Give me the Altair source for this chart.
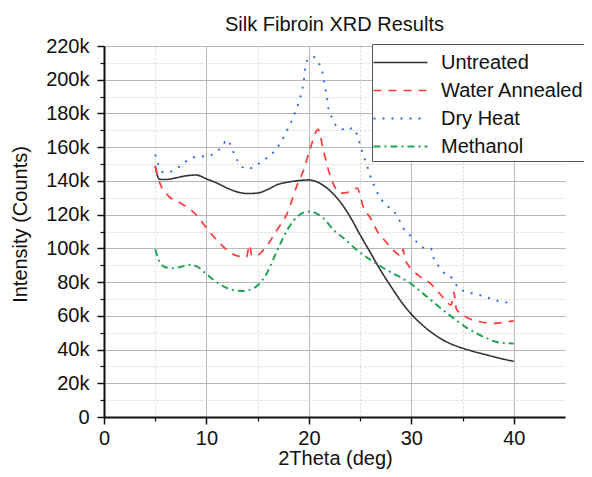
import altair as alt
import pandas as pd

FONT = "Liberation Sans"

series = ["Untreated", "Water Annealed", "Dry Heat", "Methanol"]
colors = ["#333333", "#ff3b3b", "#2a64e6", "#22a455"]
dashes = [[1, 0], [8, 7], [2, 7], [7, 4, 2, 4]]
widths = [1.6, 2.0, 2.2, 2.0]

# 2Theta (deg) and intensity (thousand counts)
ut_x = [5.0, 5.4, 6, 7, 8, 9, 10, 11, 12, 13, 14, 15, 16, 17, 18, 19, 20, 21, 22, 23, 24, 25,
        26, 27, 28, 29, 30, 31, 32, 33, 34, 35, 36, 37, 38, 39, 40]
ut_y = [149, 141, 140.8, 141.8, 143, 143.5, 141.2, 138.8, 135.8, 133.5, 132.5, 132.8, 135, 138,
        139.3, 140.2, 140.6, 138.8, 134.5, 128, 119, 108, 97.5, 87, 77.5, 68.5, 61, 55, 50, 46,
        43, 40.8, 39, 37.4, 35.8, 34.3, 33]

wa_x = [5.0, 5.5, 6.3, 7.4, 8.4, 9.2, 10, 11, 12, 13, 13.9, 14.2, 14.45, 15, 15.7, 16.9, 17.9,
        18.8, 19.5, 20.1, 20.9, 21.4, 22.1, 23.1, 24.2, 24.7, 25.3, 26.0, 26.7, 27.5, 28.4, 29.05,
        29.2, 29.35, 29.6, 30.7, 31.9, 32.8, 33.9, 34.15, 34.4, 35.3, 36.7, 38.1, 39.4, 40]
wa_y = [148.6, 138, 131, 127, 123.3, 118.5, 112, 105, 99, 95.5, 94.8, 102, 95.5, 96, 100, 111, 121,
        136.7, 146.7, 158.6, 170.5, 158.6, 142.7, 132.8, 133.8, 135.8, 124.9, 118, 110, 104, 98,
        95.5, 99.5, 94, 91, 84, 79, 73, 66.5, 74, 64, 59.5, 56.5, 55.5, 56.5, 57]

dh_x = [5.0, 5.3, 5.8, 6.6, 7.6, 8.7, 9.7, 10.5, 11.0, 11.6, 12.0, 12.5, 12.8, 13.3, 13.95, 14.6,
        15.2, 15.9, 16.9, 17.5, 17.9, 18.3, 18.7, 19.0, 19.3, 19.5, 19.6, 19.9, 20.4, 20.8, 21.1,
        21.3, 21.4, 21.6, 21.8, 21.9, 22.3, 22.7, 23.4, 23.9, 24.2, 24.7, 25.0, 25.3, 25.7, 26.0,
        26.3, 26.7, 27.1, 27.8, 28.3, 28.8, 29.2, 29.7, 30.1, 30.5, 30.9, 31.5, 31.9, 32.2, 32.7,
        33.4, 34.0, 34.5, 35.3, 35.9, 36.6, 37.2, 38.1, 38.7, 39.4, 39.8]
dh_y = [155.6, 149.6, 145, 145.7, 149.6, 154, 154.6, 155.5, 157.5, 161, 164.5, 159, 154.6, 149.6,
        147, 148.3, 150.7, 153.6, 159.6, 165.5, 170.5, 175.4, 181.3, 186.3, 193.2, 199.2, 205.1,
        212, 213.6, 212, 208, 205, 202, 195, 188, 183, 177, 172.4, 170.5, 169.9, 171.5, 167.5,
        161.5, 155.6, 148.6, 142.7, 138.3, 132.8, 128.8, 124.4, 121.9, 117, 112, 109, 106, 104,
        101.5, 100, 100, 93.8, 89.2, 84.2, 82.3, 77.3, 74.3, 73.4, 72.4, 71.4, 69.4, 68.4, 67.8,
        67.5]

me_x = [5.0, 5.5, 6.1, 6.8, 7.6, 8.4, 9.1, 9.9, 10.7, 11.7, 12.6, 13.6, 14.6, 15.2, 15.9, 16.5,
        17.0, 18.0, 19.0, 20.0, 20.8, 21.4, 22.4, 23.5, 24.5, 26.0, 27.6, 29.9, 31.5, 33.5, 35.5,
        37.4, 38.7, 40.0]
me_y = [99.5, 91.2, 88.6, 88.2, 89.2, 90.2, 89.2, 85.3, 81.3, 77.3, 75.3, 74.7, 76.3, 79.3, 85.3,
        93.2, 100, 112, 119.5, 121.9, 120.5, 118, 111, 105.5, 100, 93.2, 87.2, 79.3, 71.4, 61.5,
        52.6, 46.6, 44, 43.6]

x_major = [0, 10, 20, 30, 40]
x_minor = [5, 15, 25, 35]
y_major = [0, 20000, 40000, 60000, 80000, 100000, 120000, 140000, 160000, 180000, 200000, 220000]
y_minor = [10000, 30000, 50000, 70000, 90000, 110000, 130000, 150000, 170000, 190000, 210000]

rows = []
for name, xs, ys in zip(series, [ut_x, wa_x, dh_x, me_x], [ut_y, wa_y, dh_y, me_y]):
    for i, (a, b) in enumerate(zip(xs, ys)):
        rows.append({"series": name, "theta": a, "intensity": b * 1000, "order": i})
df = pd.DataFrame(rows)

xscale = alt.Scale(domain=[0, 45], nice=False, zero=False)
yscale = alt.Scale(domain=[0, 220000], nice=False)

minor = alt.Chart(df).mark_line(opacity=0).encode(
    x=alt.X("theta:Q", scale=xscale,
            axis=alt.Axis(values=x_minor, orient="bottom", grid=True, gridColor="#d6d6d6",
                          gridDash=[2, 2], gridWidth=1, labels=False, domain=False,
                          tickSize=4, tickColor="#111", tickWidth=1.2, title=None)),
    y=alt.Y("intensity:Q", scale=yscale,
            axis=alt.Axis(values=y_minor, orient="left", grid=True, gridColor="#d6d6d6",
                          gridDash=[2, 2], gridWidth=1, labels=False, domain=False,
                          tickSize=4, tickColor="#111", tickWidth=1.2, title=None)),
    detail="series:N",
)

main = alt.Chart(df).mark_line(interpolate="monotone").encode(
    x=alt.X("theta:Q", scale=xscale,
            axis=alt.Axis(values=x_major, orient="bottom", format="d", grid=True,
                          gridColor="#b8b8b8", gridWidth=1, domainColor="#111",
                          domainWidth=2, tickColor="#111", tickSize=7, tickWidth=1.5,
                          labelFont=FONT, labelFontSize=20, labelColor="#111",
                          labelPadding=4, labelFlush=False, title="2Theta (deg)",
                          titleFont=FONT, titleFontSize=20, titleFontWeight="normal",
                          titleColor="#111", titleX=231, titleY=41,
                          titleBaseline="middle")),
    y=alt.Y("intensity:Q", scale=yscale,
            axis=alt.Axis(values=y_major, orient="left", grid=True,
                          labelExpr="datum.value == 0 ? '0' : format(datum.value / 1000, 'd') + 'k'",
                          gridColor="#b8b8b8", gridWidth=1, domainColor="#111",
                          domainWidth=2, tickColor="#111", tickSize=7, tickWidth=1.5,
                          labelFont=FONT, labelFontSize=20, labelColor="#111",
                          labelPadding=8, labelFlush=False, title="Intensity (Counts)",
                          titleFont=FONT, titleFontSize=20, titleFontWeight="normal",
                          titleColor="#111", titleX=-84, titleY=178,
                          titleBaseline="middle")),
    color=alt.Color("series:N", sort=series, scale=alt.Scale(domain=series, range=colors),
                    legend=alt.Legend(title=None, orient="none", legendX=268, legendY=-2,
                                      symbolType="M-2,0H2", symbolSize=729,
                                      symbolStrokeWidth=2, symbolOffset=10,
                                      labelFont=FONT, labelFontSize=20, labelColor="#111",
                                      labelOffset=26, rowPadding=3, padding=4,
                                      strokeColor="#555", fillColor="white",
                                      labelLimit=300)),
    strokeDash=alt.StrokeDash("series:N", sort=series,
                              scale=alt.Scale(domain=series, range=dashes)),
    strokeWidth=alt.StrokeWidth("series:N", sort=series,
                                scale=alt.Scale(domain=series, range=widths), legend=None),
    order="order:Q",
)

chart = alt.layer(minor, main).resolve_axis(x="independent", y="independent").properties(
    width=461,
    height=371,
    padding={"left": 96, "top": 38, "right": 19, "bottom": 52},
    autosize=alt.AutoSizeParams(type="none"),
    title=alt.Title("Silk Fibroin XRD Results", font=FONT, fontSize=20, fontWeight="normal",
                    color="#111", anchor="middle", frame="group", offset=1),
).configure_view(stroke=None)

chart.save("out.html", embed_options={"renderer": "svg", "actions": False})
